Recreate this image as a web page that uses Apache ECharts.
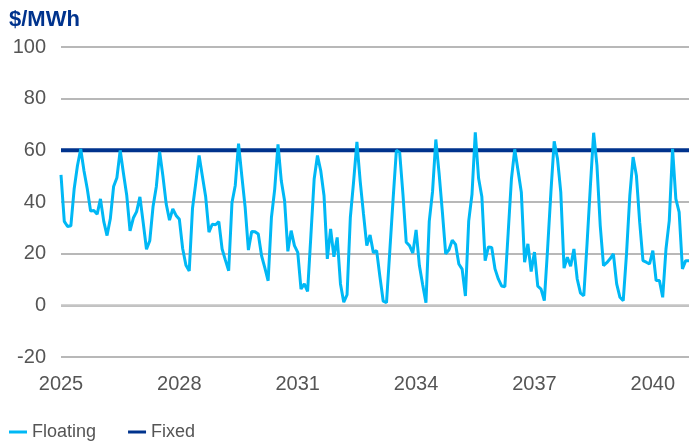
<!DOCTYPE html>
<html>
<head>
<meta charset="utf-8">
<script src="https://cdn.jsdelivr.net/npm/echarts@6/dist/echarts.min.js"></script>
<style>
  html, body { margin: 0; padding: 0; background: #fff; }
  #chart { width: 693px; height: 441px; }
</style>
</head>
<body>
<div id="chart"></div>
<script>
// Monthly price series, Jan 2025 – Dec 2040
const years = [2025, 2026, 2027, 2028, 2029, 2030, 2031, 2032,
               2033, 2034, 2035, 2036, 2037, 2038, 2039, 2040];
const monthNames = ['Jan', 'Feb', 'Mar', 'Apr', 'May', 'Jun',
                    'Jul', 'Aug', 'Sep', 'Oct', 'Nov', 'Dec'];
const months = [];
years.forEach(y => monthNames.forEach(m => months.push(m + ' ' + y)));

// Floating price ($/MWh), one value per month
const floating = [
  50.5, 32.5, 30.5, 30.8, 45, 54, 60.5, 52, 45, 36.5, 36.7, 35.3,
  41.2, 32.5, 27, 33.5, 46, 49.4, 60, 51, 42.5, 28.8, 33.8, 36.3,
  42, 32, 21.7, 25, 38.3, 46, 59.5, 50, 39.2, 33, 37.3, 34.8,
  33.3, 22, 15.5, 13.3, 37.6, 47.5, 58, 50, 42, 28.3, 31.4, 31.2,
  32.4, 21.8, 17.5, 13.4, 39.7, 46.4, 62.6, 50, 38, 21.4, 28.6, 28.5,
  27.6, 19.2, 14.5, 9.5, 34, 45, 62.3, 48.2, 40.5, 20.9, 28.9, 23.1,
  20.5, 6.3, 8.3, 5.4, 27, 48.9, 58, 52.1, 42.4, 18, 29.6, 18.8,
  26.3, 8.3, 1.2, 4.1, 34, 48, 63.3, 48, 35.4, 23.1, 27.2, 20.4,
  21.2, 11, 1.6, 1, 21, 41, 60, 59.2, 43, 24.4, 23.1, 20.2,
  29.2, 15.4, 8, 1, 32.5, 44, 64.2, 51, 36, 19.9, 21.5, 25.2,
  23.6, 16, 14, 3.6, 32.6, 43, 67, 49.2, 42, 17.3, 22.6, 22.4,
  14.1, 10.2, 7.5, 7.2, 28, 49, 60.4, 52.2, 43.8, 16.7, 23.8, 13.1,
  20.6, 7.4, 6.3, 1.8, 22, 43.8, 63.5, 56.8, 43.8, 14.4, 18.6, 15.1,
  21.8, 10.2, 4.7, 3.7, 24, 46, 66.8, 54.2, 30.9, 15.4, 16.5, 18,
  19.9, 8.3, 3.1, 1.8, 20, 42.5, 57.4, 50.3, 32.2, 17.3, 16.7, 16,
  21.2, 9.6, 9.6, 3.1, 21.8, 32.8, 60.6, 41.2, 36.1, 14.1, 17.3, 17.3
];

// Fixed contract price ($/MWh), flat over the whole period
const fixedPrice = 60;
const fixed = months.map(() => fixedPrice);

// Value axis ticks
const yTicks = [-20, 0, 20, 40, 60, 80, 100];

const FONT = '"Liberation Sans", Arial, sans-serif';
const chart = echarts.init(document.getElementById('chart'), null, { renderer: 'canvas' });

chart.setOption({
  animation: false,
  backgroundColor: '#ffffff',
  textStyle: { fontFamily: FONT },
  title: {
    text: '$/MWh',
    left: 7,
    top: 4,
    padding: [5, 2, 5, 2],
    textStyle: { color: '#00338D', fontSize: 22, fontWeight: 'bold', fontFamily: FONT }
  },
  grid: { left: 61, right: 4, top: 47, bottom: 84, containLabel: false },
  legend: {
    left: 4,
    top: 418,
    itemWidth: 18,
    itemHeight: 3,
    itemGap: 32,
    icon: 'rect',
    textStyle: { color: '#555555', fontSize: 18, fontFamily: FONT },
    data: ['Floating', 'Fixed']
  },
  xAxis: {
    type: 'category',
    data: months,
    boundaryGap: false,
    axisLine: { show: false },
    axisTick: { show: false },
    splitLine: { show: false },
    axisLabel: {
      interval: 35,
      margin: 17,
      color: '#555555',
      fontSize: 20,
      fontFamily: FONT,
      formatter: v => v.split(' ')[1]
    }
  },
  yAxis: {
    type: 'value',
    min: yTicks[0],
    max: yTicks[yTicks.length - 1],
    interval: 20,
    axisLine: { show: false },
    axisTick: { show: false },
    axisLabel: { margin: 15, color: '#555555', fontSize: 20, fontFamily: FONT },
    splitLine: { lineStyle: { color: '#a0a0a0', width: 1.5 } }
  },
  series: [
    {
      name: 'Floating',
      type: 'line',
      data: floating,
      z: 3,
      symbol: 'none',
      lineStyle: { color: '#00B8F5', width: 3 },
      itemStyle: { color: '#00B8F5' },
      markLine: {
        silent: true,
        symbol: 'none',
        label: { show: false },
        lineStyle: { color: '#c4c4c4', width: 2.5, type: 'solid' },
        data: [{ yAxis: 0 }],
        z: 1
      }
    },
    {
      name: 'Fixed',
      type: 'line',
      data: fixed,
      z: 2,
      symbol: 'none',
      lineStyle: { color: '#00338D', width: 4 },
      itemStyle: { color: '#00338D' }
    }
  ]
});
</script>
</body>
</html>
